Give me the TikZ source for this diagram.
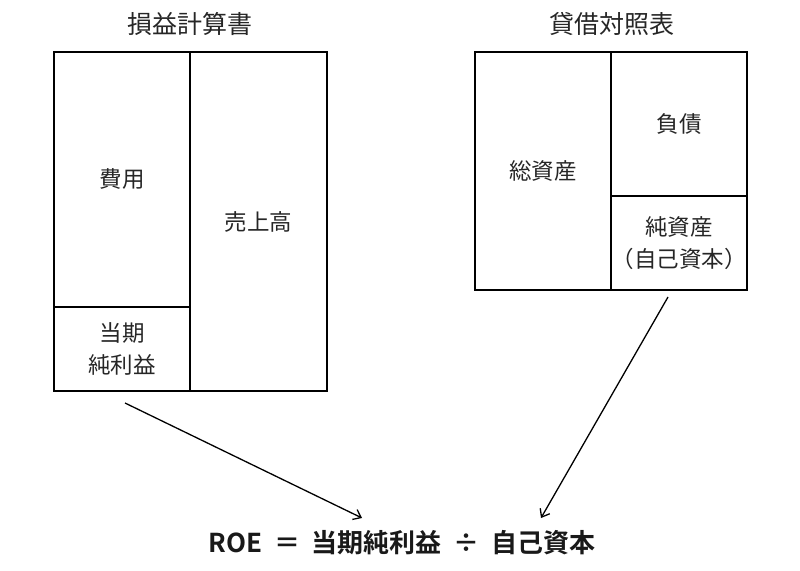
\documentclass[tikz,border=0pt]{standalone}
\usepackage{fontspec}
\setmainfont{Noto Sans CJK JP}
\newfontfamily\boldcjk{Noto Sans CJK JP Bold}
\usetikzlibrary{arrows.meta}
\begin{document}
\begin{tikzpicture}[x=1pt,y=-1pt,
  cell/.style={draw=black,line width=2.8pt,inner sep=0pt,align=center,font=\fontsize{22.5}{32}\selectfont,text=black!85},
  ttl/.style={font=\fontsize{25}{29}\selectfont,text=black!85},
  conn/.style={line width=1.3pt,-{Straight Barb[length=7pt,width=11pt,line width=1.3pt]}}]
\useasboundingbox (0,0) rectangle (800,570);
% titles
\node[ttl] (pl) at (190,24) {損益計算書};
\node[ttl] (bs) at (612,24) {貸借対照表};
% income statement
\node[cell,minimum width=136pt,minimum height=255pt] (cost) at (122,179.5) {費用};
\node[cell,minimum width=136pt,minimum height=84pt] (ni) at (122,349) {当期\\純利益};
\node[cell,minimum width=137pt,minimum height=339pt] (sales) at (258.5,221.5) {売上高};
% balance sheet
\node[cell,minimum width=136pt,minimum height=238pt] (assets) at (543,171) {総資産};
\node[cell,minimum width=136pt,minimum height=144pt] (debt) at (679,124) {負債};
\node[cell,minimum width=136pt,minimum height=94pt] (equity) at (679,243) {純資産\\（自己資本）};
% formula
\node[font=\boldcjk\fontsize{26}{30}\selectfont,text=black!90] (roe) at (402,543) {ROE\ \ ＝\ \ 当期純利益\ \ ÷\ \ 自己資本};
% arrows
\coordinate (a1s) at (125,403);
\coordinate (a1e) at (362,518);
\coordinate (a2s) at (668,297);
\coordinate (a2e) at (541,518);
\draw[conn] (a1s) -- (a1e);
\draw[conn] (a2s) -- (a2e);
\end{tikzpicture}
\end{document}
